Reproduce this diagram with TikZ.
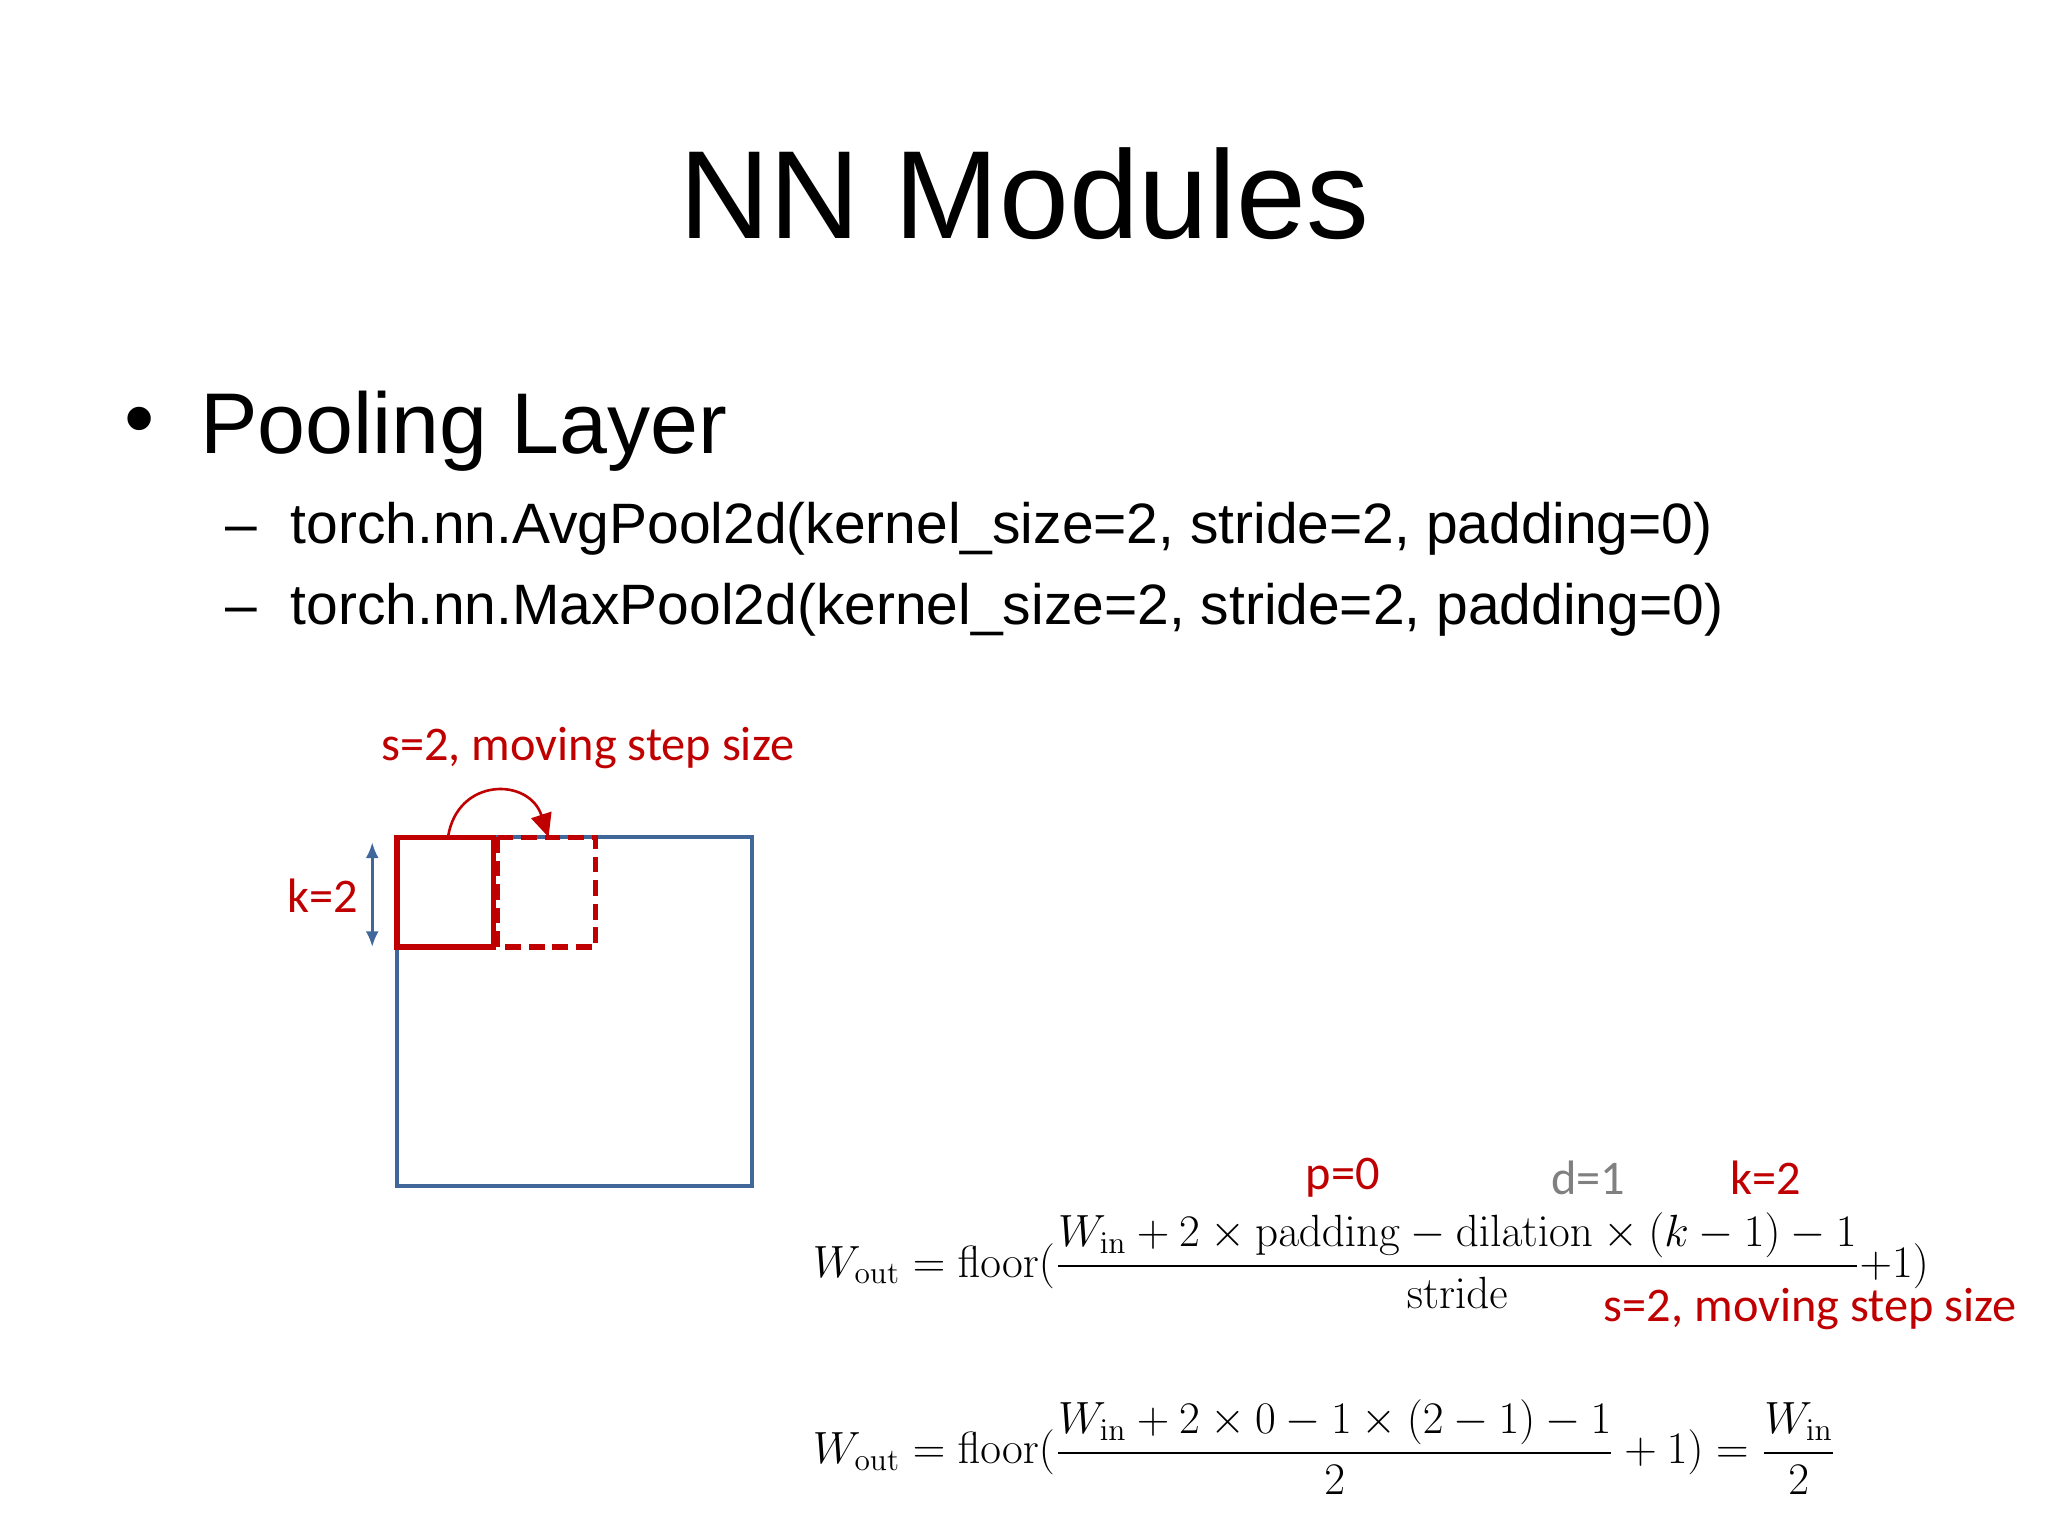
\documentclass[tikz,border=0pt]{standalone}
\usepackage{amsmath}
\usepackage[no-math]{fontspec}
\setmainfont{Liberation Sans}
\newfontfamily\calfont{Carlito}
\usetikzlibrary{arrows.meta}
\definecolor{rd}{HTML}{C00000}
\definecolor{bl}{HTML}{41679A}
\begin{document}
\begin{tikzpicture}[x=0.5pt,y=-0.5pt,
  lab/.style={font=\calfont\fontsize{18.5}{22}\selectfont,inner sep=0pt},
  fm/.style={font=\fontsize{18}{22}\selectfont,anchor=west,inner sep=0pt}]
\useasboundingbox (0,0) rectangle (1568,1176);
\node[font=\fontsize{48}{58}\selectfont] (title) at (784,148) {NN Modules};
\node[font=\fontsize{33}{40}\selectfont,anchor=west] (b) at (88,327) {•};
\node[font=\fontsize{33}{40}\selectfont,anchor=west,inner sep=0pt] (pl) at (153,330) {Pooling Layer};
\node[font=\fontsize{21.8}{25}\selectfont,anchor=west,inner sep=0pt] (l1) at (172,405) {–\hspace{13pt}torch.nn.AvgPool2d(kernel\_size=2, stride=2, padding=0)};
\node[font=\fontsize{21.8}{25}\selectfont,anchor=west,inner sep=0pt] (l2) at (172,467) {–\hspace{13pt}torch.nn.MaxPool2d(kernel\_size=2, stride=2, padding=0)};
% diagram
\draw[bl,line width=1.6pt] (304,641) rectangle (576,908);
\draw[rd,line width=2pt] (304,641) rectangle (378,725);
\draw[rd,line width=2pt,dash pattern=on 6pt off 3pt] (381,641) rectangle (456,725);
\coordinate (a1) at (343,641);
\coordinate (a2) at (420,641);
\draw[rd,line width=1pt,-{Triangle[length=9pt,width=8pt]}] (a1) .. controls (350,595) and (405,595) .. (a2);
\coordinate (k1) at (285,645);
\coordinate (k2) at (285,725);
\draw[bl,line width=1pt,{Latex[length=6pt,width=5pt]}-{Latex[length=6pt,width=5pt]}] (k1) -- (k2);
\node[lab,rd] (klab) at (247,686) {k=2};
\node[lab,rd] (slab) at (450,573) {s=2, moving step size};
% formulas
\node[fm] (f1) at (622,965) {$\displaystyle W_{\mathrm{out}}=\mathrm{floor}(\frac{W_{\mathrm{in}}+2\times\mathrm{padding}-\mathrm{dilation}\times(k-1)-1}{\mathrm{stride}}{+}1)$};
\node[lab,rd] (p0) at (1028,902) {p=0};
\node[lab,gray] (d1) at (1216,902) {d=1};
\node[lab,rd] (k2l) at (1352,902) {k=2};
\node[lab,rd] (s2l) at (1386,1002) {s=2, moving step size};
\node[fm] (f2) at (622,1108) {$\displaystyle W_{\mathrm{out}}=\mathrm{floor}(\frac{W_{\mathrm{in}}+2\times0-1\times(2-1)-1}{2}+1)=\frac{W_{\mathrm{in}}}{2}$};
\end{tikzpicture}
\end{document}
